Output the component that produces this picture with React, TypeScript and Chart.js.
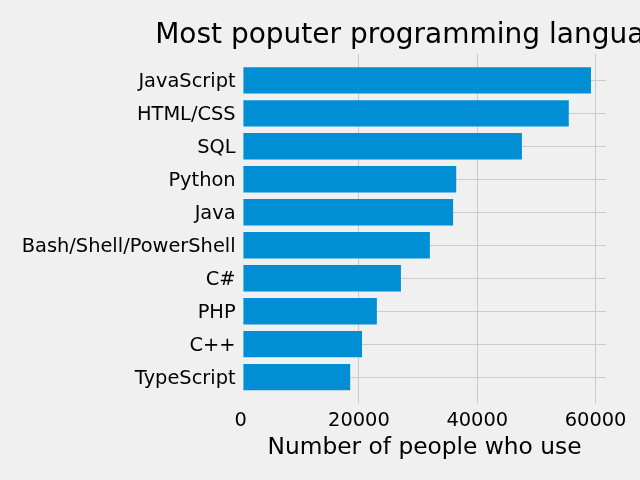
import React, { useEffect, useRef } from "react";
import { Chart, registerables } from "chart.js";

Chart.register(...registerables);

const titleText = "Most poputer programming languages";
const xLabel = "Number of people who use";
const languages = [
  "JavaScript",
  "HTML/CSS",
  "SQL",
  "Python",
  "Java",
  "Bash/Shell/PowerShell",
  "C#",
  "PHP",
  "C++",
  "TypeScript",
];
const users = [59219, 55466, 47544, 36443, 35917, 31991, 27097, 23030, 20524, 18523];
const xTicks = [0, 20000, 40000, 60000];

const FONT = "'DejaVu Sans', sans-serif";

export default function App() {
  const ref = useRef<HTMLCanvasElement | null>(null);

  useEffect(() => {
    document.body.style.margin = "0";
    document.body.style.background = "#f0f0f0";
    const canvas = ref.current;
    if (!canvas) return;

    const maxVal = Math.max(...users) * 1.05;
    const n = languages.length;
    const pad = (n - 1 + 0.8) * 0.05;

    const titlePlugin = {
      id: "mplTitle",
      afterDraw(chart: any) {
        const { ctx, chartArea } = chart;
        ctx.save();
        ctx.font = `28px ${FONT}`;
        ctx.fillStyle = "#000";
        ctx.textAlign = "center";
        ctx.textBaseline = "alphabetic";
        ctx.fillText(titleText, (chartArea.left + chartArea.right) / 2, 43);
        ctx.restore();
      },
    };

    const spinePlugin = {
      id: "spines",
      afterDatasetsDraw(chart: any) {
        const { ctx, chartArea } = chart;
        ctx.save();
        ctx.strokeStyle = "#f0f0f0";
        ctx.lineWidth = 5.6;
        ctx.strokeRect(
          chartArea.left,
          chartArea.top,
          chartArea.right - chartArea.left,
          chartArea.bottom - chartArea.top
        );
        ctx.restore();
      },
    };

    const bgPlugin = {
      id: "bg",
      beforeDraw(chart: any) {
        const { ctx, width, height } = chart;
        ctx.save();
        ctx.fillStyle = "#f0f0f0";
        ctx.fillRect(0, 0, width, height);
        ctx.restore();
      },
    };

    const chart = new Chart(canvas, {
      type: "bar",
      data: {
        datasets: [
          {
            data: users.map((v, i) => ({ x: v, y: i })),
            backgroundColor: "#008fd5",
            borderWidth: 0,
            barPercentage: 0.8,
            categoryPercentage: 1.0,
          },
        ],
      },
      options: {
        indexAxis: "y",
        responsive: false,
        animation: false,
        layout: { padding: { top: 51, left: 0, right: 31.5, bottom: 0 } },
        plugins: {
          legend: { display: false },
          tooltip: { enabled: false },
          title: { display: false },
        },
        scales: {
          x: {
            type: "linear",
            min: 0,
            max: maxVal,
            afterBuildTicks: (scale: any) => {
              scale.ticks = xTicks.map((v) => ({ value: v }));
            },
            afterFit: (scale: any) => {
              scale.height = 480 - 406.5;
              scale.paddingLeft = 0;
              scale.paddingRight = 0;
            },
            border: { display: false },
            grid: {
              color: "#cbcbcb",
              lineWidth: 1,
              drawTicks: false,
            },
            ticks: {
              color: "#000",
              font: { family: FONT, size: 19.4 },
              padding: 3,
              maxRotation: 0,
              callback: (v: any) => String(v),
            },
            title: {
              display: true,
              text: xLabel,
              color: "#000",
              font: { family: FONT, size: 23.3 },
              padding: { top: 0, bottom: 18 },
            },
          },
          y: {
            type: "linear",
            reverse: true,
            offset: false,
            min: -0.4 - pad,
            max: n - 1 + 0.4 + pad,
            afterBuildTicks: (scale: any) => {
              scale.ticks = languages.map((_, i) => ({ value: i }));
            },
            afterFit: (scale: any) => {
              scale.width = 240.6;
              scale.paddingTop = 0;
              scale.paddingBottom = 0;
            },
            border: { display: false },
            grid: { color: "#cbcbcb", lineWidth: 1, drawTicks: false, offset: false },
            ticks: {
              color: "#000",
              font: { family: FONT, size: 19.4 },
              padding: 5,
              labelOffset: 1.5,
              autoSkip: false,
              callback: (v: any) => languages[v] ?? "",
            },
          },
        },
      },
      plugins: [bgPlugin, spinePlugin, titlePlugin],
    } as any);

    return () => chart.destroy();
  }, []);

  return (
    <div style={{ width: 640, height: 480, background: "#f0f0f0" }}>
      <canvas ref={ref} width={640} height={480} style={{ display: "block" }} />
    </div>
  );
}
